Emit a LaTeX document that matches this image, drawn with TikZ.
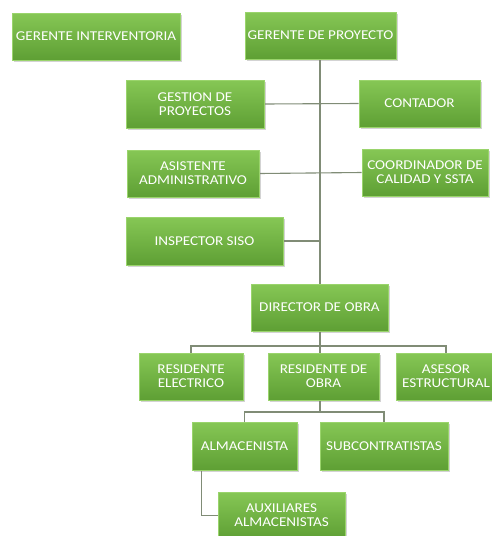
\documentclass[tikz,border=0pt]{standalone}
\usepackage{fontspec}
\setmainfont{Carlito}[FakeStretch=1.12]
\usepackage{xcolor}
\usepackage{tikz}
\usetikzlibrary{positioning,shadows,backgrounds,calc}

\definecolor{boxtop}{HTML}{86C755}
\definecolor{boxbot}{HTML}{5E9F34}
\definecolor{boxrim}{HTML}{9AD46C}
\definecolor{linkgray}{HTML}{808C76}

\begin{document}
\begin{tikzpicture}[
  x=1pt, y=-1pt,
  cargo/.style={draw=boxrim, line width=0.8pt, rectangle, align=center,
                top color=boxtop, bottom color=boxbot, text=white,
                font=\fontsize{13.5}{14}\selectfont, inner xsep=1pt, inner ysep=2pt,
                drop shadow={opacity=0.35, shadow xshift=1.5pt, shadow yshift=-1.5pt}},
  link/.style={draw=linkgray, line width=1.1pt}
]
\useasboundingbox (0,0) rectangle (491,536);
% Gerencia
\node[cargo, minimum width=168pt, minimum height=47pt] (gi) at (96,36.5) {GERENTE INTERVENTORIA};
\node[cargo, minimum width=151pt, minimum height=47pt] (gp) at (320.5,35.5) {GERENTE DE PROYECTO};
% Apoyo (izquierda y derecha)
\node[cargo, minimum width=138pt, minimum height=48pt] (gest) at (195,104) {GESTION DE\\PROYECTOS};
\node[cargo, minimum width=121pt, minimum height=47pt] (cont) at (419.5,103.5) {CONTADOR};
\node[cargo, minimum width=132pt, minimum height=47pt] (asis) at (193,173.5) {ASISTENTE\\ADMINISTRATIVO};
\node[cargo, minimum width=126pt, minimum height=47pt] (coord) at (425,172.5) {COORDINADOR DE\\CALIDAD Y SSTA};
\node[cargo, minimum width=157pt, minimum height=48pt] (insp) at (204.5,241) {INSPECTOR SISO};
% Obra
\node[cargo, minimum width=137pt, minimum height=47pt] (dir) at (319.5,307.5) {DIRECTOR DE OBRA};
\node[cargo, minimum width=104pt, minimum height=47pt] (rele) at (191,376.5) {RESIDENTE\\ELECTRICO};
\node[cargo, minimum width=111pt, minimum height=47pt] (robra) at (323.5,376.5) {RESIDENTE DE\\OBRA};
\node[cargo, minimum width=100pt, minimum height=47pt] (ases) at (446,376.5) {ASESOR\\ESTRUCTURAL};
\node[cargo, minimum width=105pt, minimum height=48pt] (alm) at (244.5,446) {ALMACENISTA};
\node[cargo, minimum width=128pt, minimum height=48pt] (sub) at (384,446) {SUBCONTRATISTAS};
\node[cargo, minimum width=127pt, minimum height=47pt] (aux) at (281.5,515.5) {AUXILIARES\\ALMACENISTAS};
% Conexiones
\coordinate (bus1) at (320,346);
\coordinate (bus2) at (320,412);
\begin{scope}[on background layer]
\draw[link] (gp.south -| bus1) -- (dir.north -| bus1);
\draw[link] (gest.east) -- (cont.west);
\draw[link] (asis.east) -- (coord.west);
\draw[link] (insp.east) -- (insp.east -| bus1);
\draw[link] (dir.south -| bus1) -- (bus1);
\draw[link] (rele.north) |- (bus1) -| (ases.north);
\draw[link] (bus1) -- (bus1 |- robra.north);
\draw[link] (robra.south -| bus2) -- (bus2);
\draw[link] (alm.north) |- (bus2) -| (sub.north);
\draw[link] ([xshift=10pt]alm.south west) |- (aux.west);
\end{scope}
\end{tikzpicture}
\end{document}
